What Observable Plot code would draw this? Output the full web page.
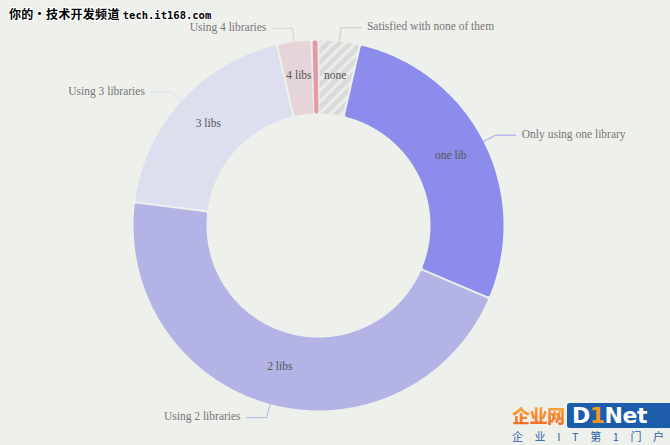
<!DOCTYPE html>
<html>
<head>
<meta charset="utf-8">
<script src="https://cdn.jsdelivr.net/npm/d3@7"></script>
<script src="https://cdn.jsdelivr.net/npm/@observablehq/plot@0.6"></script>
<style>
html,body{margin:0;padding:0;background:#eef0ec;}
#wrap{position:relative;width:670px;height:445px;overflow:hidden;background:#eef0ec;}
#wm1{position:absolute;left:9px;top:5px;font:bold 12px "Noto Sans CJK SC",sans-serif;color:#000;letter-spacing:0.3px;
  text-shadow:1px 0 #fff,-1px 0 #fff,0 1px #fff,0 -1px #fff,1px 1px #fff,-1px -1px #fff,1px -1px #fff,-1px 1px #fff;white-space:nowrap;}
#wm1 .url{font:bold 10.5px "DejaVu Sans Mono",monospace;letter-spacing:0;}
#logo{position:absolute;left:511px;top:402px;width:159px;height:43px;}
#logo .cn{position:absolute;left:1px;top:1px;font:900 18px "Noto Sans CJK SC",sans-serif;line-height:24px;
  background:linear-gradient(#fbb040,#f26522);-webkit-background-clip:text;background-clip:text;color:transparent;letter-spacing:-0.5px;}
#logo .box{position:absolute;left:56px;top:1px;width:103px;height:25px;background:#1b5cab;border-radius:3px;
  font:bold 22px "DejaVu Sans",sans-serif;line-height:25px;color:#fff;padding-left:5px;letter-spacing:-0.5px;}
#logo .box b{color:#f7941d;}
#logo .sub{position:absolute;left:1px;top:28px;width:152px;font:11px "Noto Sans CJK SC",sans-serif;color:#2a62aa;white-space:nowrap;line-height:13px;
  display:flex;justify-content:space-between;}
</style>
</head>
<body>
<div id="wrap"></div>
<script>
// ---- data ----
const categories = ["none", "one lib", "2 libs", "3 libs", "4 libs", "5+ libs"];
const outerLabels = ["Satisfied with none of them", "Only using one library", "Using 2 libraries", "Using 3 libraries", "Using 4 libraries", ""];
const innerLabels = ["none", "one lib", "2 libs", "3 libs", "4 libs", ""];
const values = [3.6, 27.8, 45.6, 19.4, 3.0, 0.6];
const sliceColors = ["url(#hatch)", "#8b8ceb", "#b3b3e6", "#dedfee", "#e6d5d8", "#e09ba6"];
const leaderColors = ["#c9cbc8", "#9d9ef0", "#b3b3e6", "#dcdded", "#dccfd2", "#e09ba6"];

// ---- layout ----
const W = 670, H = 445, cx = 318, cy = 225;
const R = 185, r = 112, gap = 1, k = 2, elbowR = 199, tail = 20, textGap = 6;

const data = categories.map((c, i) => ({cat: c, value: values[i], outer: outerLabels[i], inner: innerLabels[i]}));
const arcs = d3.pie().sort(null).value(d => d.value).startAngle(0).endAngle(2 * Math.PI)(data);

const pt = (a, rho) => [rho * Math.sin(a), rho * Math.cos(a)];

// slice polygons (inset by k, then stroked with width 2k and round joins for rounded corners)
const polys = [];
arcs.forEach(p => {
  const a0 = p.startAngle, a1 = p.endAngle, half = (a1 - a0) / 2;
  const off = rho => Math.min(Math.asin((gap + k) / rho), half * 0.98);
  const Ro = R - k, Ri = r + k, N = 80;
  const ring = [];
  const s0 = a0 + off(Ro), s1 = a1 - off(Ro);
  for (let j = 0; j <= N; j++) ring.push(pt(s0 + (s1 - s0) * j / N, Ro));
  const t0 = a0 + off(Ri), t1 = a1 - off(Ri);
  for (let j = N; j >= 0; j--) ring.push(pt(t0 + (t1 - t0) * j / N, Ri));
  ring.push(ring[0]);
  ring.forEach(([x, y]) => polys.push({cat: p.data.cat, x, y}));
});

// inner labels at centroids
const inner = arcs.filter(p => p.data.inner).map(p => {
  const m = (p.startAngle + p.endAngle) / 2;
  const [x, y] = pt(m, (R + r) / 2);
  return {x, y, text: p.data.inner};
});

// leader lines and outer labels
const leaders = [], outer = [];
arcs.filter(p => p.data.outer).forEach(p => {
  const m = (p.startAngle + p.endAngle) / 2;
  const side = Math.sin(m) >= 0 ? 1 : -1;
  const [x0, y0] = pt(m, R);
  const [x1, y1] = pt(m, elbowR);
  const x2 = x1 + side * tail;
  leaders.push({cat: p.data.cat, x: x0, y: y0}, {cat: p.data.cat, x: x1, y: y1}, {cat: p.data.cat, x: x2, y: y1});
  outer.push({x: x2 + side * textGap, y: y1, text: p.data.outer, anchor: side > 0 ? "start" : "end"});
});

const leaderScale = d3.scaleOrdinal(categories, leaderColors);

const chart = Plot.plot({
  width: W, height: H, margin: 0,
  x: {domain: [-cx, W - cx], axis: null},
  y: {domain: [-(H - cy), cy], axis: null},
  color: {type: "ordinal", domain: categories, range: sliceColors},
  style: {background: "transparent", fontFamily: "'Liberation Serif', serif"},
  marks: [
    Plot.line(polys, {x: "x", y: "y", z: "cat", fill: "cat", stroke: "cat", strokeWidth: 2 * k, strokeLinejoin: "round", curve: "linear"}),
    Plot.line(leaders, {x: "x", y: "y", z: "cat", stroke: d => leaderScale(d.cat), strokeWidth: 1, curve: "linear"}),
    Plot.text(inner, {x: "x", y: "y", text: "text", fill: "#555", fontSize: 11.5, dy: -3}),
    Plot.text(outer.filter(d => d.anchor === "start"), {x: "x", y: "y", text: "text", fill: "#777", fontSize: 11.5, textAnchor: "start", dy: -1}),
    Plot.text(outer.filter(d => d.anchor === "end"), {x: "x", y: "y", text: "text", fill: "#777", fontSize: 11.5, textAnchor: "end", dy: -1})
  ]
});

// hatch pattern for the "none" slice
const svg = d3.select(chart);
const defs = svg.insert("defs", ":first-child");
const pat = defs.append("pattern").attr("id", "hatch").attr("patternUnits", "userSpaceOnUse")
  .attr("width", 8).attr("height", 8).attr("patternTransform", "rotate(45)");
pat.append("rect").attr("width", 8).attr("height", 8).attr("fill", "#d9dbd8");
pat.append("rect").attr("width", 3).attr("height", 8).attr("fill", "#ebedea");

const wrap = document.getElementById("wrap");
wrap.appendChild(chart);

// watermarks
const subChars = ["企", "业", "I", "T", "第", "1", "门", "户"];
wrap.insertAdjacentHTML("beforeend",
  '<div id="wm1">你的·技术开发频道 <span class="url">tech.it168.com</span></div>' +
  '<div id="logo"><div class="cn">企业网</div><div class="box">D<b>1</b>Net</div><div class="sub">' +
  subChars.map(c => "<span>" + c + "</span>").join("") + '</div></div>');
</script>
</body>
</html>
